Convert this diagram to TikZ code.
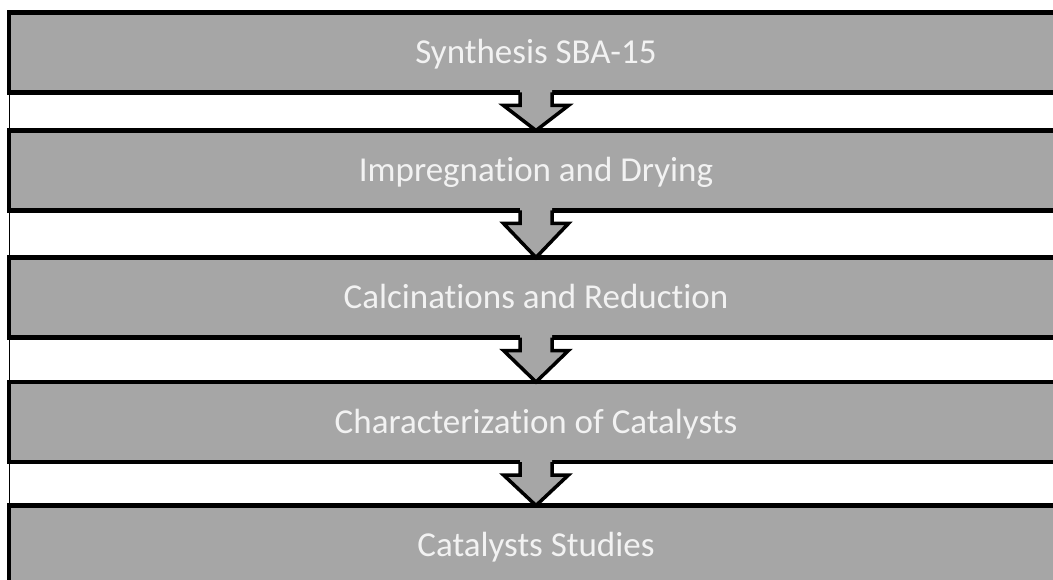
\documentclass[tikz,border=0pt]{standalone}
\usepackage{fontspec}
\setmainfont[Ligatures=NoCommon]{Carlito}
\usetikzlibrary{calc}
\definecolor{boxgray}{HTML}{A6A6A6}
\definecolor{txtcol}{HTML}{F2F2F2}
\tikzset{
  stepbox/.style={draw=black, line width=4.5pt, fill=boxgray,
    minimum width=1054pt, minimum height=80pt, inner sep=0pt, outer sep=0pt,
    text=txtcol, font=\fontsize{35}{42}\selectfont,
    text height=22.5pt, text depth=0pt, anchor=center},
  arrowfill/.style={fill=boxgray, draw=none},
  arrowline/.style={draw=black, line width=3.5pt, line join=miter},
  leftline/.style={draw=black, line width=1.5pt},
}
\newcommand\flowarrow[2]{%
  \fill[arrowfill] ($(#1.south)+(-16,3)$) -- ($(#1.south)+(-16,-13)$)
    -- ($(#1.south)+(-32.5,-13)$) -- (#2.north)
    -- ($(#1.south)+(32.5,-13)$) -- ($(#1.south)+(16,-13)$)
    -- ($(#1.south)+(16,3)$) -- cycle;
  \draw[arrowline] ($(#1.south)+(-16,0)$) -- ($(#1.south)+(-16,-13)$)
    -- ($(#1.south)+(-32.5,-13)$) -- (#2.north)
    -- ($(#1.south)+(32.5,-13)$) -- ($(#1.south)+(16,-13)$)
    -- ($(#1.south)+(16,0)$);
}
\begin{document}
\begin{tikzpicture}[x=1pt,y=1pt]
  \useasboundingbox (0,0) rectangle (1053,-580);
  \clip (0,0) rectangle (1053,-580);
  \fill[white] (0,0) rectangle (1053,-580);
  \coordinate (ltop) at (9.5,-13);
  \coordinate (lbot) at (9.5,-590);
  \draw[leftline] (ltop) -- (lbot);
  \node[stepbox] (b1) at (536,-52.5) {Synthesis SBA-15};
  \node[stepbox] (b2) at (536,-170.5) {Impregnation and Drying};
  \node[stepbox] (b3) at (536,-297.5) {Calcinations and Reduction};
  \node[stepbox] (b4) at (536,-422) {Characterization of Catalysts};
  \node[stepbox] (b5) at (536,-545.5) {Catalysts Studies};
  \flowarrow{b1}{b2}
  \flowarrow{b2}{b3}
  \flowarrow{b3}{b4}
  \flowarrow{b4}{b5}
\end{tikzpicture}
\end{document}
